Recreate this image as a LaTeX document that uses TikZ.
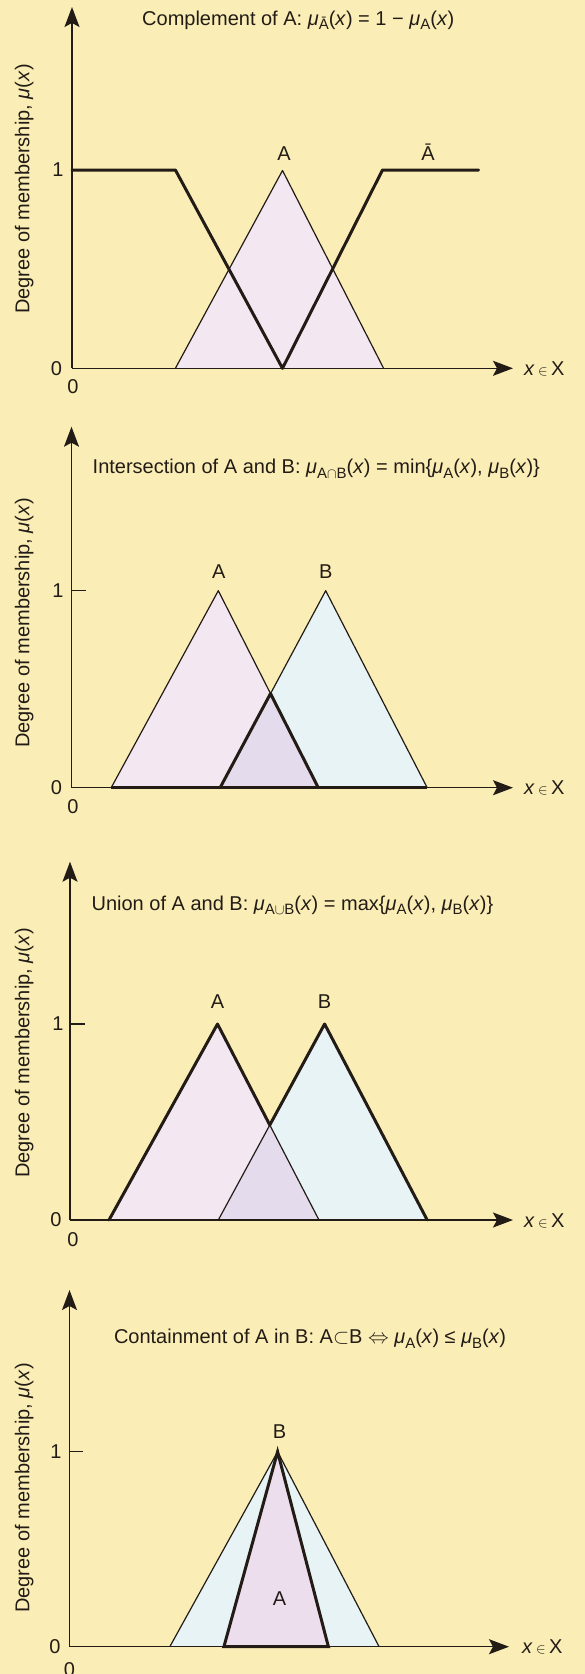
\documentclass[tikz,border=0pt]{standalone}
\usepackage{fontspec}
\setmainfont{Liberation Sans}
\usetikzlibrary{arrows.meta}
\definecolor{bg}{RGB}{250,238,182}
\definecolor{pinkA}{RGB}{243,232,242}
\definecolor{pinkAA}{RGB}{237,222,237}
\definecolor{blueB}{RGB}{232,243,246}
\definecolor{lav}{RGB}{228,219,236}
\definecolor{ink}{RGB}{35,28,22}
\newcommand{\mysub}[1]{\raisebox{-0.45ex}{\fontsize{15}{15}\selectfont #1}}
\newcommand{\mymu}{\textit{μ}}
\newcommand{\xin}{\textit{x}\,{\fontsize{14}{14}\selectfont$\in$}\,X}
\begin{document}
\begin{tikzpicture}[x=1pt,y=-1pt,font=\fontsize{20}{23}\selectfont,
  ax/.style={line width=1.4pt,draw=ink,-{Stealth[length=20pt,width=15pt,inset=4pt]}},
  tick/.style={line width=1.4pt,draw=ink},
  thinln/.style={line width=1.2pt,draw=ink,line join=round},
  boldln/.style={line width=3pt,draw=ink,line join=round,line cap=round},
  lbl/.style={inner sep=0pt,text=ink},
  ylab/.style={inner sep=0pt,text=ink,rotate=90,anchor=center}]
\fill[bg] (0,0) rectangle (585,1674);
\useasboundingbox (0,0) rectangle (585,1674);

% ---------------- Panel 1: complement ----------------
\coordinate (o1) at (72,368.3);
\coordinate (y1) at (72,7);
\coordinate (x1) at (513,368.3);
\coordinate (a1l) at (175.4,368.3);
\coordinate (a1t) at (282.5,170.5);
\coordinate (a1r) at (383.6,368.3);
\fill[pinkA] (a1l) -- (a1t) -- (a1r) -- cycle;
\draw[thinln] (a1l) -- (a1t) -- (a1r);
\draw[ax] (o1) -- (y1);
\draw[ax] (o1) -- (x1);
\coordinate (c1a) at (72,170);
\coordinate (c1b) at (175.4,170);
\coordinate (c1c) at (282.5,368.3);
\coordinate (c1d) at (382.5,170);
\coordinate (c1e) at (478.7,170);
\draw[boldln] (c1a) -- (c1b) -- (c1c) -- (c1d) -- (c1e);
\node[lbl,anchor=base west] (t1) at (142,25) {Complement of A: \mymu\mysub{Ā}(\textit{x}) = 1 − \mymu\mysub{A}(\textit{x})};
\node[lbl,anchor=base] (la1) at (284,160) {A};
\node[lbl,anchor=base] (lab1) at (428,160) {Ā};
\node[lbl] (one1) at (58,170) {1};
\node[lbl] (zy1) at (56.5,368.3) {0};
\node[lbl] (zx1) at (73,387) {0};
\node[lbl,anchor=base west] (xl1) at (524,375) {\xin};
\node[ylab] (yl1) at (24.3,189) {Degree of membership, \mymu(\textit{x})};

% ---------------- Panel 2: intersection ----------------
\coordinate (o2) at (71.5,787.7);
\coordinate (y2) at (71.5,426.7);
\coordinate (x2) at (513,787.7);
\coordinate (a2l) at (111.2,787.7);
\coordinate (a2t) at (218.3,590.7);
\coordinate (a2r) at (318.3,787.7);
\coordinate (b2l) at (220.1,787.7);
\coordinate (b2t) at (325.7,590.7);
\coordinate (b2r) at (427.2,787.7);
\coordinate (i2) at (270.5,693.6);
\fill[pinkA] (a2l) -- (a2t) -- (a2r) -- cycle;
\fill[blueB] (b2l) -- (b2t) -- (b2r) -- cycle;
\fill[lav] (b2l) -- (i2) -- (a2r) -- cycle;
\draw[thinln] (a2l) -- (a2t) -- (a2r);
\draw[thinln] (b2l) -- (b2t) -- (b2r);
\draw[ax] (o2) -- (y2);
\draw[ax] (o2) -- (x2);
\draw[tick] (o2 |- a2t) -- (85.8,590.7);
\draw[boldln] (b2l) -- (i2) -- (a2r);
\draw[line width=2.6pt,draw=ink] (a2l) -- (b2r);
\node[lbl,anchor=base west] (t2) at (92.5,473.5) {Intersection of A and B: \mymu\mysub{A$\cap$B}(\textit{x}) = min\{\mymu\mysub{A}(\textit{x}), \mymu\mysub{B}(\textit{x})\}};
\node[lbl,anchor=base] (la2) at (218.7,578.5) {A};
\node[lbl,anchor=base] (lb2) at (325.7,578.5) {B};
\node[lbl] (one2) at (58,590.7) {1};
\node[lbl] (zy2) at (56.5,787.7) {0};
\node[lbl] (zx2) at (73,806.7) {0};
\node[lbl,anchor=base west] (xl2) at (524,794.5) {\xin};
\node[ylab] (yl2) at (24.3,623) {Degree of membership, \mymu(\textit{x})};

% ---------------- Panel 3: union ----------------
\coordinate (o3) at (70,1220);
\coordinate (y3) at (70,861.7);
\coordinate (x3) at (513,1220);
\coordinate (a3l) at (109,1220);
\coordinate (a3t) at (217.5,1024);
\coordinate (a3r) at (319,1220);
\coordinate (b3l) at (218.3,1220);
\coordinate (b3t) at (324.6,1024);
\coordinate (b3r) at (427.2,1220);
\coordinate (i3) at (269.8,1125);
\fill[pinkA] (a3l) -- (a3t) -- (a3r) -- cycle;
\fill[blueB] (b3l) -- (b3t) -- (b3r) -- cycle;
\fill[lav] (b3l) -- (i3) -- (a3r) -- cycle;
\draw[thinln] (i3) -- (a3r);
\draw[thinln] (b3l) -- (i3);
\draw[ax] (o3) -- (y3);
\draw[ax] (o3) -- (x3);
\draw[tick] (o3 |- a3t) -- (84.5,1024);
\draw[boldln] (a3l) -- (a3t) -- (i3) -- (b3t) -- (b3r);
\node[lbl,anchor=base west] (t3) at (91.4,910) {Union of A and B: \mymu\mysub{A$\cup$B}(\textit{x}) = max\{\mymu\mysub{A}(\textit{x}), \mymu\mysub{B}(\textit{x})\}};
\node[lbl,anchor=base] (la3) at (217.5,1008.5) {A};
\node[lbl,anchor=base] (lb3) at (324.6,1008.5) {B};
\node[lbl] (one3) at (58,1024) {1};
\node[lbl] (zy3) at (56,1220) {0};
\node[lbl] (zx3) at (73,1240) {0};
\node[lbl,anchor=base west] (xl3) at (524,1227) {\xin};
\node[ylab] (yl3) at (24.3,1053) {Degree of membership, \mymu(\textit{x})};

% ---------------- Panel 4: containment ----------------
\coordinate (o4) at (69.5,1646.7);
\coordinate (y4) at (69.5,1290);
\coordinate (x4) at (509,1646.7);
\coordinate (b4l) at (169.8,1646.7);
\coordinate (b4t) at (277.6,1451.7);
\coordinate (b4r) at (379.1,1646.7);
\coordinate (a4l) at (223.9,1646.7);
\coordinate (a4r) at (328.4,1646.7);
\fill[blueB] (b4l) -- (b4t) -- (b4r) -- cycle;
\draw[thinln] (b4l) -- (b4t) -- (b4r);
\fill[pinkAA] (a4l) -- (b4t) -- (a4r) -- cycle;
\draw[ax] (o4) -- (y4);
\draw[ax] (o4) -- (x4);
\draw[tick] (o4 |- b4t) -- (82.8,1451.7);
\draw[boldln,line join=miter,miter limit=4] (a4l) -- (b4t) -- (a4r) -- cycle;
\node[lbl,anchor=base west] (t4) at (113.8,1343.5) {Containment of A in B: A$\subset$B $\Leftrightarrow$ \mymu\mysub{A}(\textit{x}) ≤ \mymu\mysub{B}(\textit{x})};
\node[lbl,anchor=base] (lb4) at (279.5,1438.5) {B};
\node[lbl,anchor=base] (la4) at (279.5,1605) {A};
\node[lbl] (one4) at (56,1451.7) {1};
\node[lbl] (zy4) at (55,1646.7) {0};
\node[lbl] (zx4) at (69.5,1670) {0};
\node[lbl,anchor=base west] (xl4) at (522,1653.5) {\xin};
\node[ylab] (yl4) at (24.3,1488) {Degree of membership, \mymu(\textit{x})};
\end{tikzpicture}
\end{document}
